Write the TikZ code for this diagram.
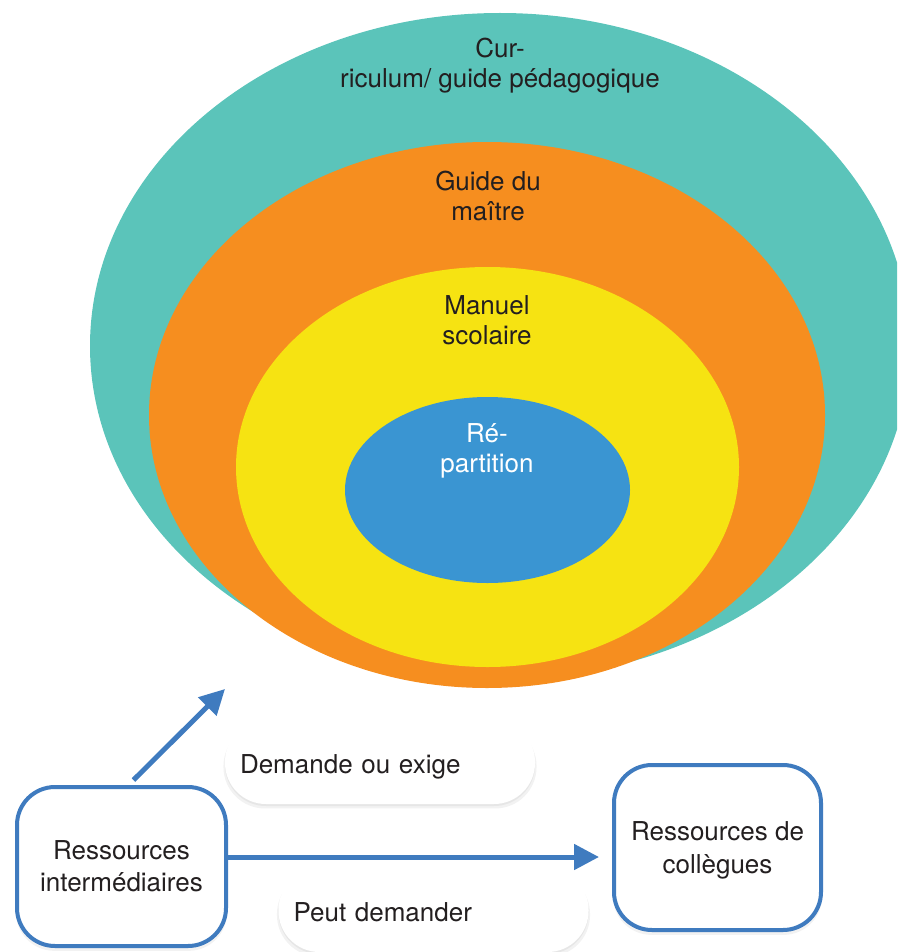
\documentclass[tikz,border=0pt]{standalone}
\usepackage{fontspec}
\setmainfont{TeX Gyre Heros}
\usepackage{tikz}
\usetikzlibrary{arrows.meta,shapes.geometric,shadows}
\usepackage{xcolor}
\definecolor{turq}{HTML}{5BC4BA}
\definecolor{orange2}{HTML}{F68E1F}
\definecolor{jaune}{HTML}{F6E312}
\definecolor{bleu}{HTML}{3A95D2}
\definecolor{bleutrait}{HTML}{3F7BBF}
\definecolor{encre}{HTML}{231F20}

\begin{document}
\begin{tikzpicture}[x=1pt, y=-1pt,
  couche/.style={ellipse, inner sep=0pt, draw=none},
  texte/.style={align=center, text=encre, font=\fontsize{26}{30}\selectfont},
  ombre/.style={drop shadow={shadow xshift=0pt, shadow yshift=-2pt, opacity=0.05, fill=black},
    drop shadow={shadow xshift=0pt, shadow yshift=-4pt, shadow scale=1.01, opacity=0.05, fill=black}},
  ressource/.style={draw=bleutrait, line width=4pt, rounded corners=38pt, fill=white,
    align=center, text=encre, font=\fontsize{26}{32}\selectfont, text depth=0pt, ombre},
  bulle/.style={rounded corners=41pt, fill=white, minimum width=310pt, minimum height=83pt,
    text width=280pt, inner xsep=15pt, text height=21pt, text depth=0pt, align=left,
    text=encre, font=\fontsize{26}{30}\selectfont, ombre},
  fleche/.style={draw=bleutrait, line width=5pt, -{Triangle[length=25pt,width=25pt]}}]
\useasboundingbox (0,0) rectangle (897,952);
\clip (0,0) rectangle (897,952);

% couches concentriques
\node[couche, fill=turq, minimum width=820pt, minimum height=666pt] (curriculum) at (500,346) {};
\node[couche, fill=orange2, minimum width=676pt, minimum height=546pt] (guide) at (487,415) {};
\node[couche, fill=jaune, minimum width=503pt, minimum height=400pt] (manuel) at (487.5,467) {};
\node[couche, fill=bleu, minimum width=285pt, minimum height=186pt] (repartition) at (487.5,490) {};

\node[texte] (lcurriculum) at (500,66) {Cur-\\riculum/ guide pédagogique};
\node[texte] (lguide) at (488,196) {Guide du\\maître};
\node[texte] (lmanuel) at (487,320) {Manuel\\scolaire};
\node[texte, text=white] (lrepartition) at (487,451) {Ré-\\partition};

% ressources
\node[ressource, minimum width=209pt, minimum height=159pt] (interm) at (121.5,866.5) {Ressources\\intermédiaires};
\node[ressource, minimum width=207pt, minimum height=165pt, font=\fontsize{26}{33}\selectfont] (collegues) at (717.5,847.5) {Ressources de\\collègues};

\node[bulle] (demande) at (380,762.5) {Demande ou exige};
\node[bulle] (peut) at (433.5,910.5) {Peut demander};

\coordinate (cible) at (225,689);
\coordinate (cible2) at (599,857);
\draw[fleche] ([xshift=12pt,yshift=5pt]interm.north) -- (cible);
\draw[fleche] (interm.east |- cible2) -- (cible2);
\end{tikzpicture}
\end{document}
